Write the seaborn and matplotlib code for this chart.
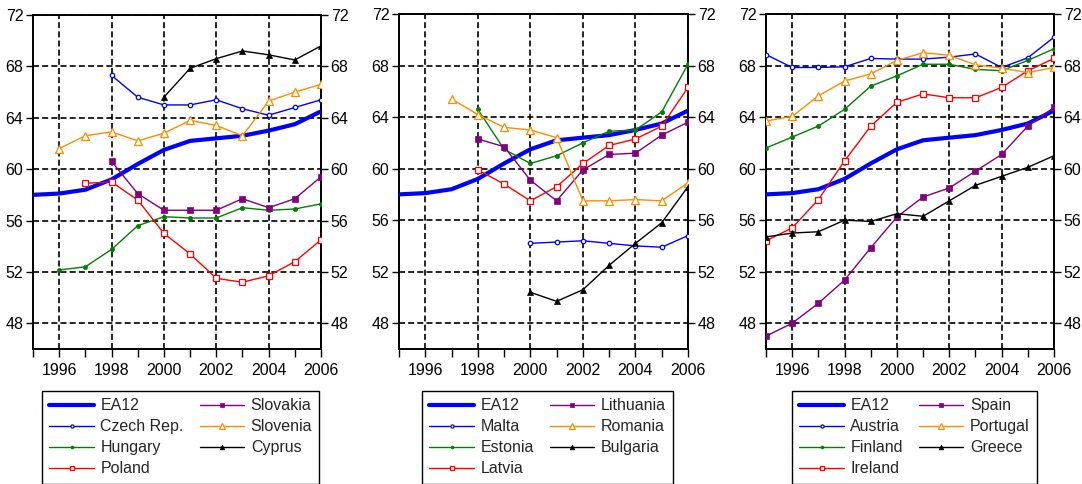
import numpy as np
import pandas as pd
import matplotlib
matplotlib.use("Agg")
import matplotlib.pyplot as plt
import seaborn as sns
from matplotlib.ticker import FixedLocator

nan = np.nan
years = list(range(1995, 2007))

# Employment rates (%), 1995-2006
ea12 = [58.0, 58.1, 58.4, 59.2, 60.4, 61.5, 62.2, 62.4, 62.6, 63.0, 63.5, 64.5]

# Central European new members
czech = [nan, nan, nan, 67.3, 65.6, 65.0, 65.0, 65.4, 64.7, 64.2, 64.8, 65.4]
hungary = [nan, 52.15, 52.4, 53.75, 55.6, 56.3, 56.2, 56.2, 57.0, 56.8, 56.9, 57.3]
poland = [nan, nan, 58.9, 59.0, 57.6, 55.0, 53.4, 51.5, 51.2, 51.7, 52.8, 54.5]
slovakia = [nan, nan, nan, 60.6, 58.1, 56.8, 56.8, 56.8, 57.7, 57.0, 57.7, 59.4]
slovenia = [nan, 61.6, 62.6, 62.9, 62.2, 62.8, 63.8, 63.4, 62.6, 65.3, 66.0, 66.6]
cyprus = [nan, nan, nan, nan, nan, 65.6, 67.85, 68.6, 69.2, 68.9, 68.5, 69.6]

# Baltic states, Malta and the 2007 entrants
malta = [nan, nan, nan, nan, nan, 54.2, 54.3, 54.4, 54.2, 54.0, 53.9, 54.8]
estonia = [nan, nan, nan, 64.6, 61.5, 60.4, 61.0, 62.0, 62.9, 63.0, 64.4, 68.1]
latvia = [nan, nan, nan, 59.9, 58.8, 57.5, 58.6, 60.4, 61.8, 62.3, 63.3, 66.3]
lithuania = [nan, nan, nan, 62.3, 61.7, 59.1, 57.5, 59.9, 61.1, 61.2, 62.6, 63.6]
romania = [nan, nan, 65.4, 64.2, 63.2, 63.0, 62.4, 57.5, 57.5, 57.6, 57.5, 58.9]
bulgaria = [nan, nan, nan, nan, nan, 50.4, 49.7, 50.6, 52.5, 54.2, 55.8, 58.6]

# Cohesion and small euro-area countries
austria = [68.85, 67.85, 67.85, 67.9, 68.55, 68.5, 68.5, 68.65, 68.9, 67.85, 68.6, 70.2]
finland = [61.6, 62.45, 63.3, 64.6, 66.4, 67.2, 68.1, 68.1, 67.7, 67.6, 68.4, 69.3]
ireland = [54.4, 55.4, 57.6, 60.6, 63.3, 65.15, 65.8, 65.5, 65.5, 66.3, 67.6, 68.55]
spain = [47.0, 48.0, 49.55, 51.35, 53.85, 56.25, 57.8, 58.5, 59.8, 61.1, 63.3, 64.75]
portugal = [63.7, 64.05, 65.65, 66.8, 67.35, 68.4, 69.0, 68.8, 68.05, 67.8, 67.45, 67.85]
greece = [54.7, 55.0, 55.1, 56.0, 55.9, 56.5, 56.3, 57.5, 58.7, 59.4, 60.1, 61.0]

panel_names = [
    ["EA12", "Czech Rep.", "Hungary", "Poland", "Slovakia", "Slovenia", "Cyprus"],
    ["EA12", "Malta", "Estonia", "Latvia", "Lithuania", "Romania", "Bulgaria"],
    ["EA12", "Austria", "Finland", "Ireland", "Spain", "Portugal", "Greece"],
]
panel_values = [
    [ea12, czech, hungary, poland, slovakia, slovenia, cyprus],
    [ea12, malta, estonia, latvia, lithuania, romania, bulgaria],
    [ea12, austria, finland, ireland, spain, portugal, greece],
]

# line style per position in each panel
BLUE, GREEN, RED, PURPLE, ORANGE, BLACK = "#0000FF", "#008000", "#FF0000", "#800080", "#FF8C00", "#000000"
styles = [
    dict(color=BLUE, linewidth=3.0, marker=""),
    dict(color=BLUE, linewidth=1.0, marker="o", markersize=3.2, markerfacecolor="white",
         markeredgecolor=BLUE, markeredgewidth=0.9),
    dict(color=GREEN, linewidth=1.0, marker="o", markersize=3.0, markerfacecolor=GREEN,
         markeredgecolor=GREEN, markeredgewidth=0.5),
    dict(color=RED, linewidth=1.0, marker="s", markersize=5.0, markerfacecolor="white",
         markeredgecolor=RED, markeredgewidth=0.9),
    dict(color=PURPLE, linewidth=1.0, marker="s", markersize=4.6, markerfacecolor=PURPLE,
         markeredgecolor=PURPLE, markeredgewidth=0.5),
    dict(color=ORANGE, linewidth=1.0, marker="^", markersize=5.2, markerfacecolor="white",
         markeredgecolor=ORANGE, markeredgewidth=0.9),
    dict(color=BLACK, linewidth=1.0, marker="^", markersize=4.8, markerfacecolor=BLACK,
         markeredgecolor=BLACK, markeredgewidth=0.5),
]

sns.set_style("white")
plt.rcParams["font.family"] = ["Liberation Sans", "DejaVu Sans"]

W, H = 1082, 484
fig = plt.figure(figsize=(W / 100, H / 100), dpi=100)

axes_px = [(33, 15, 321, 349), (399, 14, 688, 349), (766, 14, 1054, 349)]
legend_px = [(42, 391), (422, 391), (792, 391)]

for names, values, (x0, y0, x1, y1), (lx, ly) in zip(panel_names, panel_values, axes_px, legend_px):
    ax = fig.add_axes([x0 / W, 1 - y1 / H, (x1 - x0) / W, (y1 - y0) / H])
    for name, vals, st in zip(names, values, styles):
        df = pd.DataFrame({"year": years, "rate": vals}).dropna()
        sns.lineplot(data=df, x="year", y="rate", ax=ax, label=name, legend=False,
                     estimator=None, sort=True, zorder=3, **st)

    ax.set_xlim(1995, 2006)
    ax.set_ylim(46, 72)
    ax.set_xlabel("")
    ax.set_ylabel("")
    ax.xaxis.set_major_locator(FixedLocator(list(range(1996, 2007, 2))))
    ax.xaxis.set_minor_locator(FixedLocator(list(range(1995, 2006, 2))))
    ax.yaxis.set_major_locator(FixedLocator(list(range(48, 73, 4))))
    ax.set_axisbelow(True)
    ax.grid(True, which="major", color="black", linestyle=(0, (3.6, 1.9)), linewidth=1.2)

    ax.tick_params(axis="both", which="both", direction="out", length=5, width=1.0,
                   color="black", labelcolor="black", labelsize=11.5)
    ax.tick_params(axis="y", left=True, right=True, labelleft=True, labelright=True, pad=2)
    ax.tick_params(axis="x", which="both", bottom=True, top=False, pad=4, length=6)
    for sp in ax.spines.values():
        sp.set_visible(True)
        sp.set_color("black")
        sp.set_linewidth(1.4)

    handles, labels = ax.get_legend_handles_labels()
    leg = ax.legend(handles, labels, loc="upper left", bbox_to_anchor=(lx / W, 1 - ly / H),
                    bbox_transform=fig.transFigure, ncol=2, fontsize=11.5, frameon=True,
                    fancybox=False, edgecolor="black", framealpha=1, borderaxespad=0,
                    handlelength=2.8, handletextpad=0.4, columnspacing=1.0,
                    labelspacing=0.38, borderpad=0.45, numpoints=1, markerscale=0.7)
    leg.get_frame().set_linewidth(1.0)

fig.savefig("out.png", dpi=100, facecolor="white")
